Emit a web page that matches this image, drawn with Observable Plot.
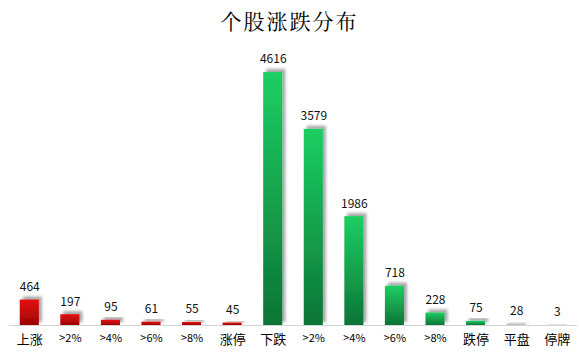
<!DOCTYPE html>
<html><head><meta charset="utf-8">
<script src="https://cdn.jsdelivr.net/npm/d3@7"></script>
<script src="https://cdn.jsdelivr.net/npm/@observablehq/plot@0.6"></script>
<style>
body{margin:0;background:#fff;}
#title{height:40px;line-height:40px;text-align:center;font-family:"Noto Serif CJK SC","Noto Sans CJK SC",serif;font-size:21px;color:#000;letter-spacing:2px;}
</style></head><body>
<div id="title">个股涨跌分布</div>
<div id="chart"></div>
<script>
const keys = ["k0","k1","k2","k3","k4","k5","k6","k7","k8","k9","k10","k11","k12","k13"];
const labels = ["上涨",">2%",">4%",">6%",">8%","涨停","下跌",">2%",">4%",">6%",">8%","跌停","平盘","停牌"];
const values = [464,197,95,61,55,45,4616,3579,1986,718,228,75,28,3];
const groups = ["up","up","up","up","up","up","down","down","down","down","down","down","flat","halt"];

const data = keys.map((k,i)=>({key:k,label:labels[i],value:values[i],group:groups[i]}));
const fills = {up:"url(#gRed)",down:"url(#gGreen)",flat:"#bdbdbd",halt:"#555"};

const chart = Plot.plot({
  width:579, height:316,
  marginLeft:9, marginRight:2, marginTop:11, marginBottom:31,
  x:{domain:keys, round:false, paddingInner:0.53, paddingOuter:0.265, tickFormat:(d)=>labels[keys.indexOf(d)], label:null, tickSize:0, tickPadding:9},
  y:{domain:[0,5000], axis:null},
  style:{fontFamily:"'Noto Sans CJK SC',sans-serif", fontSize:"12px", color:"#000"},
  marks:[
    Plot.barY(data,{x:"key",y:"value",fill:d=>fills[d.group],className:"bars"}),
    Plot.ruleY([0],{stroke:"#d4d4d4",strokeWidth:1}),
    Plot.text(data,{x:"key",y:"value",text:d=>String(d.value),dy:-13,fontSize:12,fill:"#111"})
  ]
});
const svg = d3.select(chart);
const defs = svg.insert("defs",":first-child");
const gr = defs.append("linearGradient").attr("id","gRed").attr("x1",0).attr("y1",0).attr("x2",0).attr("y2",1);
gr.append("stop").attr("offset","0%").attr("stop-color","#e50b0b");
gr.append("stop").attr("offset","100%").attr("stop-color","#9c0505");
const gg = defs.append("linearGradient").attr("id","gGreen").attr("x1",0).attr("y1",0).attr("x2",0).attr("y2",1);
gg.append("stop").attr("offset","0%").attr("stop-color","#1ccf63");
gg.append("stop").attr("offset","100%").attr("stop-color","#0d7436");
const f = defs.append("filter").attr("id","sh").attr("x","-50%").attr("y","-50%").attr("width","200%").attr("height","200%");
f.append("feDropShadow").attr("dx",3).attr("dy",-3).attr("stdDeviation",1.5).attr("flood-color","#000").attr("flood-opacity",0.35);
svg.selectAll("g.bars rect").attr("filter","url(#sh)");
svg.selectAll("g[aria-label='x-axis tick label'] text").each(function(){
  const t=d3.select(this).text();
  d3.select(this).attr("font-size", t.includes("%")?"11px":"13px");
});
document.getElementById("chart").appendChild(chart);
</script></body></html>
